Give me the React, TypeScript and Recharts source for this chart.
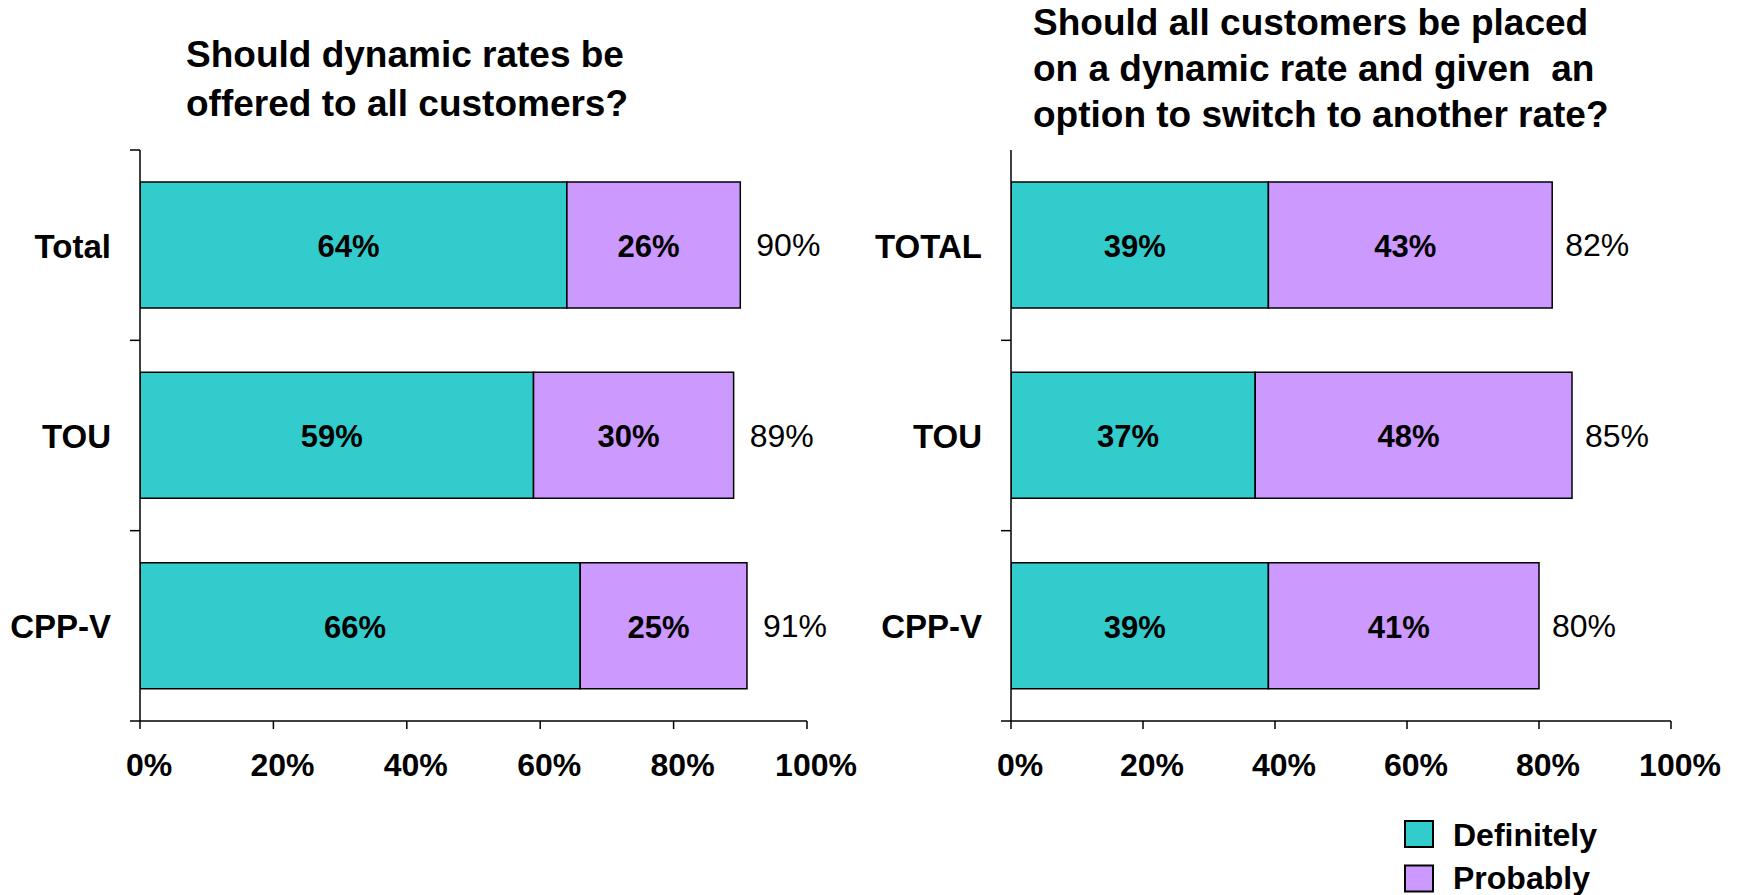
import React from 'react';
import { BarChart, Bar, XAxis, YAxis, LabelList } from 'recharts';

const TEAL = '#33CCCC';
const VIOLET = '#CC99FF';
const FONT = '"Liberation Sans", Arial, Helvetica, sans-serif';

const categoriesLeft = ['Total', 'TOU', 'CPP-V'];
const definitelyLeft = [64, 59, 66];
const probablyLeft = [26, 30, 25];
const totalLeft = [90, 89, 91];

const categoriesRight = ['TOTAL', 'TOU', 'CPP-V'];
const definitelyRight = [39, 37, 39];
const probablyRight = [43, 48, 41];
const totalRight = [82, 85, 80];

const xTicks = [0, 20, 40, 60, 80, 100];

const titleLeft = ['Should dynamic rates be', 'offered to all customers?'];
const titleRight = [
  'Should all customers be placed',
  'on a dynamic rate and given  an',
  'option to switch to another rate?',
];

const seriesNames = ['Definitely', 'Probably'];
const seriesColors = [TEAL, VIOLET];

const buildData = (cats: string[], d: number[], p: number[], t: number[]) =>
  cats.map((c, i) => ({ name: c, definitely: d[i], probably: p[i], total: t[i] }));

const leftData = buildData(categoriesLeft, definitelyLeft, probablyLeft, totalLeft);
const rightData = buildData(categoriesRight, definitelyRight, probablyRight, totalRight);

const Y_TICK_SIZE = 10;
const Y_TICK_MARGIN = 19;

const makeCategoryTick = (showTopTick: boolean) => (props: any) => {
  const { x, y, payload, height, visibleTicksCount, index } = props;
  const band = height / visibleTicksCount;
  const axisX = x + Y_TICK_SIZE + Y_TICK_MARGIN;
  const lines: any[] = [];
  if (index > 0 || showTopTick) {
    lines.push(
      <line key="t" x1={axisX - Y_TICK_SIZE} x2={axisX} y1={y - band / 2} y2={y - band / 2} stroke="#000" strokeWidth={1.5} />
    );
  }
  if (index === visibleTicksCount - 1) {
    lines.push(
      <line key="b" x1={axisX - Y_TICK_SIZE} x2={axisX} y1={y + band / 2} y2={y + band / 2} stroke="#000" strokeWidth={1.5} />
    );
  }
  return (
    <g>
      {lines}
      <text x={x} y={y + 1} textAnchor="end" dominantBaseline="central" fontFamily={FONT} fontWeight="bold" fontSize={33} fill="#000">
        {payload.value}
      </text>
    </g>
  );
};

const pct = (v: any) => `${v}%`;

const Panel = ({ data, width, rightMargin, yWidth, showTopTick, totalOffset }: any) => (
  <BarChart
    width={width}
    height={895}
    data={data}
    layout="vertical"
    margin={{ top: 150, right: rightMargin, bottom: 104, left: 0 }}
    barCategoryGap="16.8%"
  >
    <XAxis
      type="number"
      domain={[0, 100]}
      ticks={xTicks}
      interval={0}
      tickFormatter={pct}
      height={70}
      tickSize={8}
      tickMargin={24}
      axisLine={{ stroke: '#000', strokeWidth: 1.5 }}
      tickLine={{ stroke: '#000', strokeWidth: 1.5 }}
      tick={{ fill: '#000', fontSize: 32, fontWeight: 'bold', fontFamily: FONT, dx: 9 }}
      allowDataOverflow
    />
    <YAxis
      type="category"
      dataKey="name"
      width={yWidth}
      tickSize={Y_TICK_SIZE}
      tickMargin={Y_TICK_MARGIN}
      tickLine={false}
      axisLine={{ stroke: '#000', strokeWidth: 1.5 }}
      tick={makeCategoryTick(showTopTick)}
      interval={0}
    />
    <Bar dataKey="definitely" stackId="a" fill={TEAL} stroke="#000" strokeWidth={1.5} isAnimationActive={false}>
      <LabelList dataKey="definitely" position="center" formatter={pct} fill="#000" stroke="none" fontSize={31} fontWeight="bold" fontFamily={FONT} dx={-5} dy={1} />
    </Bar>
    <Bar dataKey="probably" stackId="a" fill={VIOLET} stroke="#000" strokeWidth={1.5} isAnimationActive={false}>
      <LabelList dataKey="probably" position="center" formatter={pct} fill="#000" stroke="none" fontSize={31} fontWeight="bold" fontFamily={FONT} dx={-5} dy={1} />
      <LabelList dataKey="total" position="right" offset={totalOffset} formatter={pct} fill="#000" stroke="none" fontSize={32} fontWeight="normal" fontFamily={FONT} />
    </Bar>
  </BarChart>
);

export default function App() {
  return (
    <div style={{ position: 'absolute', left: 0, top: 0, width: 1739, height: 895, background: '#fff', overflow: 'hidden' }}>
      <div style={{ position: 'absolute', left: 0, top: 0 }}>
        <Panel data={leftData} width={870} rightMargin={63} yWidth={140} showTopTick={true} totalOffset={16} />
      </div>
      <div style={{ position: 'absolute', left: 870, top: 0 }}>
        <Panel data={rightData} width={869} rightMargin={68} yWidth={141} showTopTick={false} totalOffset={13} />
      </div>
      <svg width={1739} height={895} style={{ position: 'absolute', left: 0, top: 0, pointerEvents: 'none' }}>
        <g fontFamily={FONT} fontWeight="bold" fontSize={37} fill="#000">
          {titleLeft.map((t, i) => (
            <text key={'l' + i} x={186} y={67 + i * 48.5} style={{ whiteSpace: 'pre' }}>{t}</text>
          ))}
          {titleRight.map((t, i) => (
            <text key={'r' + i} x={1033} y={35 + i * 46} style={{ whiteSpace: 'pre' }}>{t}</text>
          ))}
        </g>
        <g fontFamily={FONT} fontWeight="bold" fontSize={32} fill="#000">
          {seriesNames.map((n, i) => (
            <g key={n}>
              <rect x={1405} y={821 + i * 44.5} width={28} height={26} fill={seriesColors[i]} stroke="#000" strokeWidth={2} />
              <text x={1453} y={846 + i * 43}>{n}</text>
            </g>
          ))}
        </g>
      </svg>
    </div>
  );
}
